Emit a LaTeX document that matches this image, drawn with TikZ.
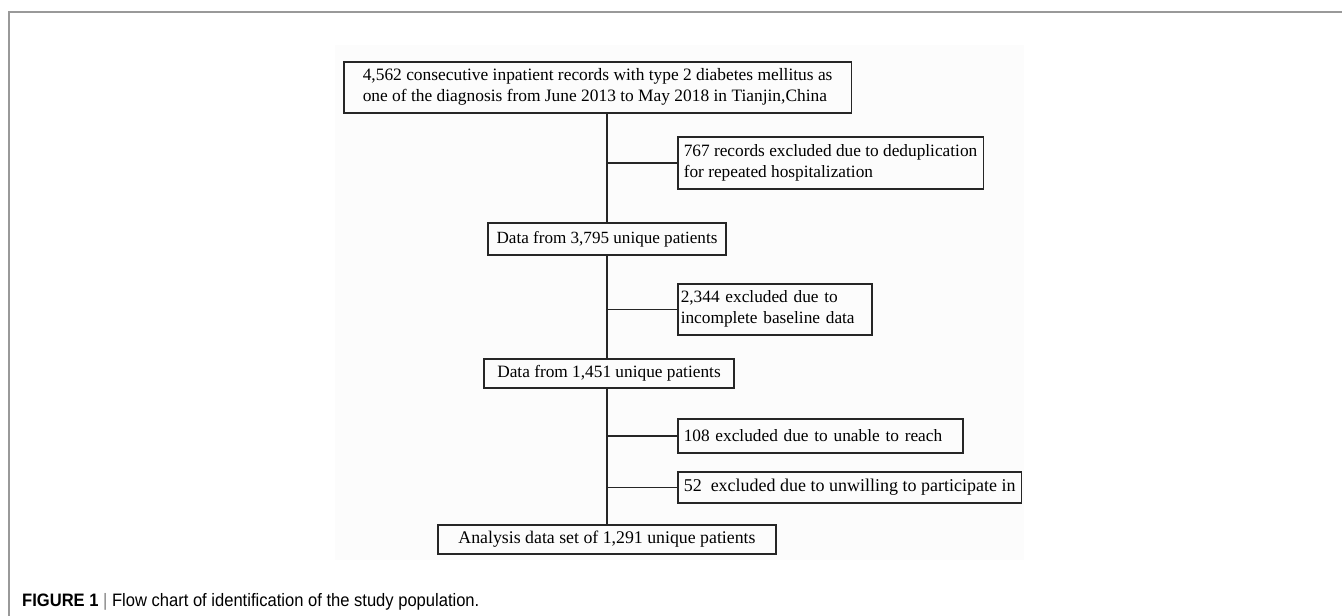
\documentclass[tikz,border=0pt]{standalone}
\usepackage{fontspec}
\setmainfont{Liberation Serif}
\setsansfont{Liberation Sans}
\usetikzlibrary{positioning}

\begin{document}
\begin{tikzpicture}[
        x=1pt, y=-1pt,
        every node/.style={font=\fontsize{17.3}{21}\selectfont},
        box/.style={draw=black!85, rectangle, inner ysep=0pt, inner xsep=6pt, line width=1.5pt},
        lbox/.style={box, anchor=north west, align=left},
        link/.style={draw=black!85, line width=1.5pt}
    ]
    \useasboundingbox (0,0) rectangle (1342,616);

    % Page frame and faint image ground
    \fill[black!1.2] (335,45) rectangle (1024,560);
    \draw[gray!80, line width=1.5pt] (9,616) -- (9,12) -- (1342,12);

    % Draw boxes
    \node[lbox, inner xsep=19pt, minimum height=51pt, font=\fontsize{17.4}{21}\selectfont] (recs) at (343,61)
        {4,562 consecutive inpatient records with type 2 diabetes mellitus as\\one of the diagnosis from June 2013 to May 2018 in Tianjin,China};
    \node[lbox, minimum height=52pt] (dedup) at (677,136)
        {767 records excluded due to deduplication\\for repeated hospitalization};
    \node[box, minimum width=238pt, minimum height=32pt, inner xsep=0pt, font=\fontsize{17.1}{21}\selectfont] (pat1) at (607,239)
        {Data from 3,795 unique patients};
    \node[lbox, inner xsep=3pt, minimum height=51pt, text width=188pt] (base) at (677,283)
        {2,344 excluded due to\\incomplete baseline data};
    \node[box, minimum width=250pt, minimum height=29pt, inner xsep=0pt] (pat2) at (609,373.5)
        {Data from 1,451 unique patients};
    \node[lbox, minimum height=34pt, text width=273pt] (reach) at (677,418)
        {108 excluded due to unable to reach};
    \node[lbox, minimum height=31pt, font=\fontsize{18}{21}\selectfont] (will) at (677,471)
        {52\ \ excluded due to unwilling to participate in};
    \node[box, minimum width=338pt, minimum height=29pt, inner xsep=0pt, font=\fontsize{17.8}{21}\selectfont] (final) at (607,539.5)
        {Analysis data set of 1,291 unique patients};

    % Draw trunk
    \draw[link] (recs.south -| pat1.north) -- (pat1.north);
    \draw[link] (pat1.south) -- (pat2.north -| pat1.south);
    \draw[link] (pat2.south -| pat1.south) -- (final.north);

    % Draw side branches
    \foreach \side in {dedup, base, reach, will} {
        \draw[link] (\side.west -| pat1.south) -- (\side.west);
    }

    % Caption
    \node[anchor=base west, inner sep=0pt, font=\sffamily\fontsize{18}{21}\selectfont] (cap) at (22,606)
        {\scalebox{0.92}[1]{\textbf{FIGURE 1} {\color{gray}|} Flow chart of identification of the study population.}};

\end{tikzpicture}
\end{document}
